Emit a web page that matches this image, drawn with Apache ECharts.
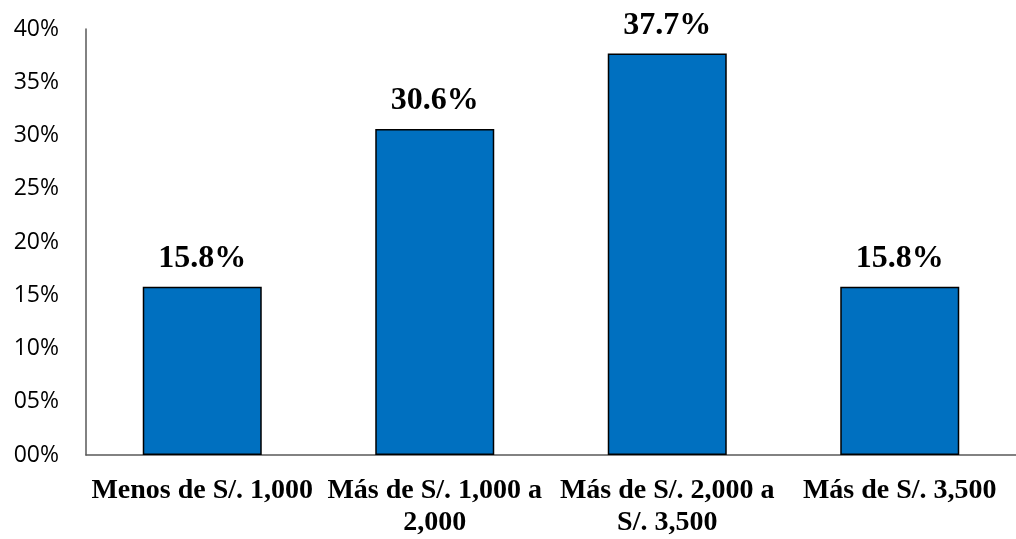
<!DOCTYPE html>
<html>
<head>
<meta charset="utf-8">
<script src="https://cdn.jsdelivr.net/npm/echarts@6/dist/echarts.min.js"></script>
<style>
  html, body { margin: 0; padding: 0; background: #ffffff; }
  #chart { width: 1016px; height: 539px; }
</style>
</head>
<body>
<div id="chart"></div>
<script>
// Income brackets (category axis) and share of respondents in each (%)
const categories = [
  'Menos de S/. 1,000',
  'Más de S/. 1,000 a\n2,000',
  'Más de S/. 2,000 a\nS/. 3,500',
  'Más de S/. 3,500'
];
const shares = [15.8, 30.6, 37.7, 15.8];

// Value axis range and step (percent)
const axisMin = 0;
const axisMax = 40;
const axisStep = 5;

const chart = echarts.init(document.getElementById('chart'), null, { renderer: 'canvas' });

chart.setOption({
  backgroundColor: '#ffffff',
  animation: false,
  grid: { left: 86, top: 29, width: 936, height: 432, containLabel: false },
  xAxis: {
    type: 'category',
    data: categories,
    axisLine: { show: true, lineStyle: { color: '#595959', width: 1.5 } },
    axisTick: { show: false },
    axisLabel: {
      interval: 0,
      margin: 20,
      color: '#000000',
      fontFamily: '"Liberation Serif", "Times New Roman", serif',
      fontWeight: 'bold',
      fontSize: 28,
      lineHeight: 32
    }
  },
  yAxis: {
    type: 'value',
    min: axisMin,
    max: axisMax,
    interval: axisStep,
    splitLine: { show: false },
    axisLine: { show: true, lineStyle: { color: '#595959', width: 1.5 } },
    axisTick: { show: false },
    axisLabel: {
      margin: 27,
      color: '#000000',
      fontFamily: '"Open Sans", "Noto Sans", sans-serif',
      fontSize: 23,
      formatter: v => String(v).padStart(2, '0') + '%'
    }
  },
  series: [{
    type: 'bar',
    data: shares,
    barWidth: 119,
    itemStyle: { color: '#0070C0', borderColor: '#000000', borderWidth: 1.5 },
    label: {
      show: true,
      position: 'top',
      distance: 12,
      color: '#000000',
      fontFamily: '"Liberation Serif", "Times New Roman", serif',
      fontWeight: 'bold',
      fontSize: 32,
      formatter: p => p.value.toFixed(1) + '%'
    }
  }]
});
</script>
</body>
</html>
